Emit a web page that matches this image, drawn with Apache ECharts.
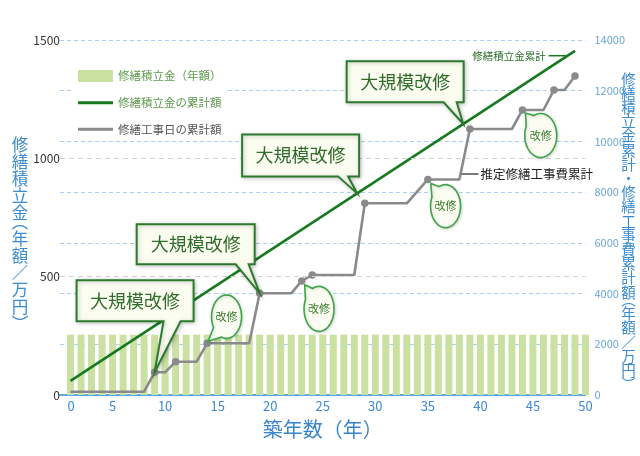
<!DOCTYPE html>
<html><head><meta charset="utf-8">
<script src="https://cdn.jsdelivr.net/npm/echarts/dist/echarts.min.js"></script>
<style>html,body{margin:0;padding:0;background:#fff}#c{width:640px;height:456px}</style>
</head><body><div id="c"></div>
<script>
// ---- data ----
const barYears = [1,2,3,4,5,6,7,8,9,10,11,12,13,14,15,16,17,18,19,20,21,22,23,24,25,26,27,28,29,30,31,32,33,34,35,36,37,38,39,40,41,42,43,44,45,46,47,48,49,50];
const annualFund = [255,255,255,255,255,255,255,255,255,255,255,255,255,255,255,255,255,255,255,255,255,255,255,255,255,255,255,255,255,255,255,255,255,255,255,255,255,255,255,255,255,255,255,255,255,255,255,255,255,255];
const fundCumYears = [1, 49];
const fundCumValues = [560, 13570];
const repairYears = [1,8,9,10,11,13,14,18,19,22,23,24,28,29,33,35,38,39,43,44,46,47,48,49];
const repairCum = [130,130,895,895,1314,1314,2040,2040,4010,4010,4500,4730,4730,7560,7560,8500,8500,10490,10490,11240,11240,12030,12030,12580];
const repairMarkerYears = [9,11,14,19,23,24,29,35,39,44,47,49];
const leftTicks = [0,500,1000,1500];
const rightTicks = [0,2000,4000,6000,8000,10000,12000,14000];
const xTicks = [0,5,10,15,20,25,30,35,40,45,50];
const leftGuideValues = [500,1000];

const FONT = "'Noto Sans CJK JP','Noto Sans',sans-serif";
const nameBar = '修繕積立金（年額）';
const nameFund = '修繕積立金の累計額';
const nameRepair = '修繕工事日の累計額';

const leftNameChars = ['修','繕','積','立','金','︵','年','額','／','万','円','︶'];
const rightNameChars = ['修','繕','積','立','金','累','計','・','修','繕','工','事','費','累','計','額','︵','年','額','／','万','円','︶'];

const GRID = {left: 60, right: 54.5, top: 40, bottom: 61};
const W = 640, H = 456;

const chart = echarts.init(document.getElementById('c'));
const lineIcon = 'path://M0,0L35,0L35,3L0,3Z';

chart.setOption({
  animation: false,
  textStyle: {fontFamily: FONT},
  grid: GRID,
  legend: {
    orient: 'vertical', left: 72, top: 67, itemWidth: 35, itemHeight: 12, itemGap: 15,
    padding: [3, 6], backgroundColor: '#fff',
    textStyle: {fontSize: 11.5, fontFamily: FONT},
    data: [
      {name: nameBar, icon: 'rect', textStyle: {color: '#5e9a4d'}},
      {name: nameFund, icon: lineIcon, textStyle: {color: '#5e9a4d'}},
      {name: nameRepair, icon: lineIcon, textStyle: {color: '#555'}}
    ]
  },
  xAxis: {
    type: 'value', min: xTicks[0], max: xTicks[xTicks.length-1], interval: 5,
    axisLine: {lineStyle: {color: '#5ea6e3', width: 2}},
    axisTick: {show: false}, splitLine: {show: false},
    axisLabel: {color: '#3d8bd4', fontSize: 13, margin: 5,
      formatter: v => v === 0 ? '{z|0}' : String(v),
      rich: {z: {padding: [0,0,0,22], color: '#3d8bd4', fontSize: 13}}},
    name: '築年数（年）', nameLocation: 'middle', nameGap: 24,
    nameTextStyle: {fontSize: 20, color: '#3a86cc'}
  },
  yAxis: [
    {
      type: 'value', position: 'left', min: leftTicks[0], max: leftTicks[leftTicks.length-1], interval: 500,
      axisLine: {show: false}, axisTick: {show: false}, splitLine: {show: false},
      axisLabel: {color: '#333', fontSize: 12, margin: 0, formatter: v => String(v)}
    },
    {
      type: 'value', position: 'right', min: rightTicks[0], max: rightTicks[rightTicks.length-1], interval: 2000,
      axisLine: {show: false}, axisTick: {show: false},
      splitLine: {show: true, lineStyle: {color: '#a9d0f2', type: [4,3], width: 1.2}},
      axisLabel: {color: '#6aa6dc', fontSize: 11, margin: 9, formatter: v => String(v)}
    }
  ],
  series: [
    {
      name: nameBar, type: 'bar', xAxisIndex: 0, yAxisIndex: 0, barWidth: 7,
      data: barYears.map((y,i) => [y, annualFund[i]]),
      itemStyle: {color: '#cae1a2'},
      markLine: {silent: true, symbol: ['none','none'], label: {show: false},
        lineStyle: {color: '#d2d2d2', type: [5,4], width: 1.2},
        data: leftGuideValues.map(v => ({yAxis: v}))}
    },
    {
      name: nameFund, type: 'line', xAxisIndex: 0, yAxisIndex: 1, symbol: 'none',
      data: fundCumYears.map((y,i) => [y, fundCumValues[i]]),
      itemStyle: {color: '#187a1f'}, lineStyle: {color: '#187a1f', width: 2.6}, z: 3
    },
    {
      name: nameRepair, type: 'line', xAxisIndex: 0, yAxisIndex: 1, symbolSize: 7.5,
      data: repairYears.map((y,i) => ({value: [y, repairCum[i]], symbol: repairMarkerYears.includes(y) ? 'circle' : 'none'})),
      itemStyle: {color: '#8a8a8a'}, lineStyle: {color: '#8a8a8a', width: 2.6}, z: 4
    }
  ]
});

// ---- annotations anchored to data through the chart's own scales ----
const P = (x, y, ax) => chart.convertToPixel({xAxisIndex: 0, yAxisIndex: ax}, [x, y]);
const fundAt = yr => fundCumValues[0] + (yr - fundCumYears[0]) * (fundCumValues[1]-fundCumValues[0]) / (fundCumYears[1]-fundCumYears[0]);
const repairAt = (i, f) => [repairYears[i] + f*(repairYears[i+1]-repairYears[i]), repairCum[i] + f*(repairCum[i+1]-repairCum[i])];

const GREEN = '#2b7a2e';
const graphics = [];

// vertical axis titles (stacked characters, half cells for vertical brackets)
function vtitle(chars, cx, cy, fs, full, half, color) {
  const cells = chars.map(c => (c === '︵' || c === '︶') ? half : full);
  const total = cells.reduce((s, v) => s + v, 0);
  let y = cy - total / 2;
  chars.forEach((c, i) => {
    let off = 0;
    if (c === '︵') off = -fs * 0.25;
    if (c === '︶') off = fs * 0.25;
    graphics.push({type: 'text', z: 20, x: cx, y: y + cells[i] / 2 + off,
      style: {text: c, fontSize: fs, fontFamily: FONT, fill: color, align: 'center', verticalAlign: 'middle'}});
    y += cells[i];
  });
}
const plotMidY = GRID.top + (H - GRID.top - GRID.bottom) / 2;
vtitle(leftNameChars, GRID.left - 40, plotMidY + 13, 16.5, 17, 9, '#3a8bd0');
vtitle(rightNameChars, W - GRID.right + 43, plotMidY + 11, 14.5, 14.2, 7.5, '#3a8bd0');

const boxes = [
  {a: [9, 895], dx: -78, dy: -92, w: 117, h: 41, t: [87, 104]},
  {a: [19, 4010], dx: -123, dy: -69, w: 118, h: 40, t: [99, 112]},
  {a: [28.27, fundAt(28.27)], dx: -115, dy: -59, w: 117, h: 42, t: [96, 106]},
  {a: [38.37, fundAt(38.37)], dx: -116.6, dy: -62.6, w: 117, h: 41, t: [97, 110]}
];
boxes.forEach(b => {
  const [px, py] = P(b.a[0], b.a[1], 1);
  const L = px + b.dx, T = py + b.dy, R = L + b.w, B = T + b.h;
  graphics.push({type: 'polygon', z: 50,
    shape: {points: [[L,T],[R,T],[R,B],[L+b.t[1],B],[px,py],[L+b.t[0],B],[L,B]]},
    style: {fill: '#fcfdf1', stroke: GREEN, lineWidth: 2, lineJoin: 'miter',
      shadowBlur: 4, shadowColor: 'rgba(0,0,0,0.22)', shadowOffsetX: 1, shadowOffsetY: 1}});
  graphics.push({type: 'text', z: 51, x: (L+R)/2, y: (T+B)/2,
    style: {text: '大規模改修', fontSize: 18, fontFamily: FONT, fill: '#2f6b2a', align: 'center', verticalAlign: 'middle'}});
});

const bubbles = [
  {a: [14, 2040], c: [19.4, -26.6], rx: 15, ry: 21.7, tip: [1, -2], ang: [110, 150]},
  {a: [23, 4500], c: [17.3, 28], rx: 15, ry: 22.5, tip: [3, 4], ang: [205, 245]},
  {a: [35, 8500], c: [17.7, 26.7], rx: 15, ry: 21.5, tip: [3, 4], ang: [205, 245]},
  {a: [44, 11240], c: [18.3, 25.5], rx: 16, ry: 22, tip: [3, 3], ang: [205, 245]}
];
bubbles.forEach(b => {
  const [px, py] = P(b.a[0], b.a[1], 1);
  const cx = px + b.c[0], cy = py + b.c[1];
  const pts = [];
  const a0 = b.ang[1], a1 = b.ang[0] + 360;
  for (let k = 0; k <= 48; k++) {
    const t = (a0 + (a1 - a0) * k / 48) * Math.PI / 180;
    pts.push([cx + b.rx * Math.cos(t), cy + b.ry * Math.sin(t)]);
  }
  pts.push([px + b.tip[0], py + b.tip[1]]);
  graphics.push({type: 'polygon', z: 50, shape: {points: pts},
    style: {fill: '#fbfdf2', stroke: '#3ea447', lineWidth: 1.6,
      shadowBlur: 3, shadowColor: 'rgba(0,0,0,0.15)', shadowOffsetX: 1, shadowOffsetY: 1}});
  graphics.push({type: 'text', z: 51, x: cx, y: cy,
    style: {text: '改修', fontSize: 11, fontFamily: FONT, fill: '#3b7a2e', align: 'center', verticalAlign: 'middle'}});
});

// series name tags
{
  const [px, py] = P(48.3, fundAt(48.3), 1);
  graphics.push({type: 'line', z: 50, shape: {x1: px-19, y1: py, x2: px-1, y2: py}, style: {stroke: '#187a1f', lineWidth: 1.5}});
  graphics.push({type: 'text', z: 51, x: px-22, y: py,
    style: {text: '修繕積立金累計', fontSize: 10.5, fontFamily: FONT, fill: '#2a6e2a', align: 'right', verticalAlign: 'middle'}});
}
{
  const q = repairAt(16, 0.108);
  const [px, py] = P(q[0], q[1], 1);
  graphics.push({type: 'line', z: 50, shape: {x1: px+1, y1: py, x2: px+18, y2: py}, style: {stroke: '#333', lineWidth: 1.3}});
  graphics.push({type: 'text', z: 51, x: px+20, y: py,
    style: {text: '推定修繕工事費累計', fontSize: 12.5, fontFamily: FONT, fill: '#222', align: 'left', verticalAlign: 'middle'}});
}

chart.setOption({graphic: graphics});
</script>
</body></html>
